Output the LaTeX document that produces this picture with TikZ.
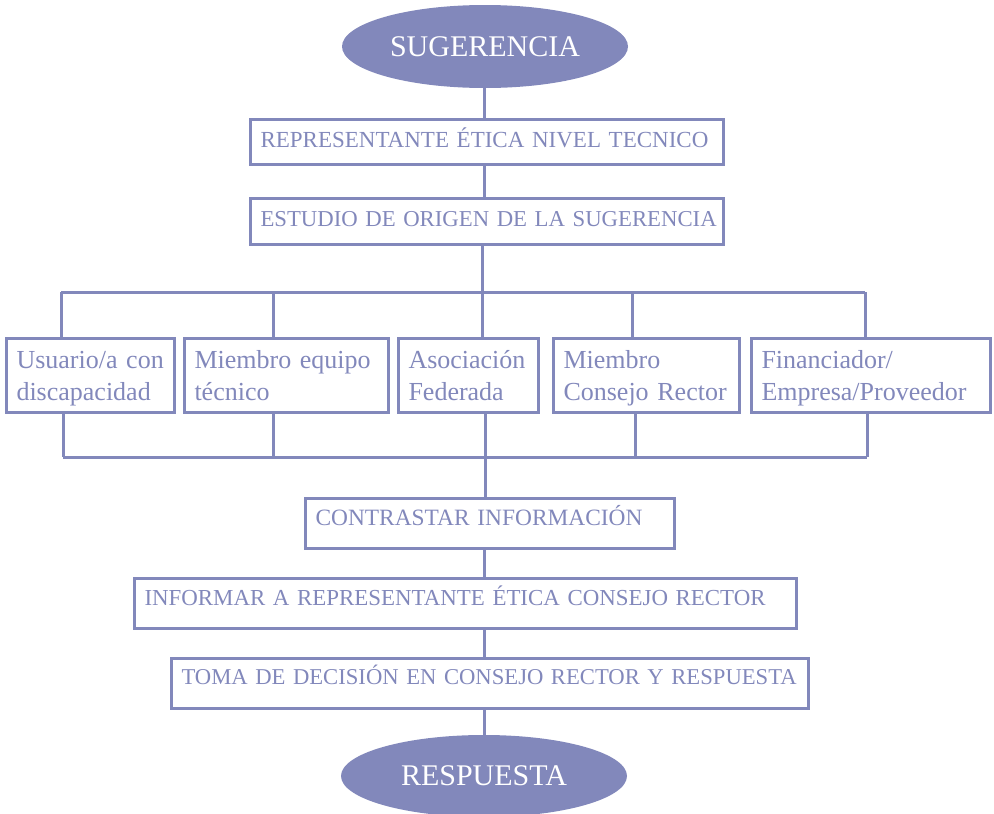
\documentclass[tikz,border=0pt]{standalone}
\usepackage{fontspec}
\setmainfont{Liberation Serif}
\usetikzlibrary{shapes.geometric,calc}
\definecolor{main}{RGB}{130,136,187}
\newcommand{\fsz}[1]{\fontsize{#1}{28}\selectfont}
\begin{document}
\begin{tikzpicture}[x=1pt,y=-1pt,
  conn/.style={draw=main,line width=3pt},
  cbox/.style={draw=main,line width=3pt,inner xsep=10pt,inner ysep=0pt,anchor=north west,align=left,text=main,font=\fsz{23.2}},
  lbox/.style={cbox,font=\fontsize{26}{32}\selectfont,text height=30pt,text depth=44pt},
  oval/.style={ellipse,fill=main,draw=none,minimum width=286pt,text=white,font=\fontsize{30}{34}\selectfont}]
\useasboundingbox (0,0) rectangle (994,814);
\coordinate (ax) at (484,0);
% ellipses
\node[oval,minimum height=83pt] (e1) at (485,46.5) {SUGERENCIA};
\node[oval,minimum height=82pt] (e2) at (484,776) {RESPUESTA};
% caps boxes
\node[cbox,font=\fsz{23},text width=453pt,text height=27.5pt,text depth=17.5pt] (b1) at (249,118) {\mbox{REPRESENTANTE ÉTICA NIVEL TECNICO}};
\node[cbox,font=\fsz{22.75},text width=453pt,text height=28pt,text depth=18pt] (b2) at (249,197) {\mbox{ESTUDIO DE ORIGEN DE LA SUGERENCIA}};
% row of boxes
\node[lbox,text width=148pt] (A) at (5,337) {Usuario/a con\\discapacidad};
\node[lbox,text width=184pt] (B) at (183,337) {Miembro equipo\\técnico};
\node[lbox,text width=120pt] (C) at (397,337) {Asociación\\Federada};
\node[lbox,text width=166pt] (D) at (552,337) {Miembro\\Consejo Rector};
\node[lbox,text width=219pt] (E) at (750,337) {Financiador/\\Empresa/Proveedor};
% lower boxes
\node[cbox,font=\fsz{23.4},text width=349pt,text height=27pt,text depth=23pt] (c1) at (304,497) {\mbox{CONTRASTAR INFORMACIÓN}};
\node[cbox,font=\fsz{22.9},text width=642pt,text height=27pt,text depth=23pt] (c2) at (133,577) {\mbox{INFORMAR A REPRESENTANTE ÉTICA CONSEJO RECTOR}};
\node[cbox,font=\fsz{22.65},text width=617pt,text height=26pt,text depth=24pt] (c3) at (170,657) {\mbox{TOMA DE DECISIÓN EN CONSEJO RECTOR Y RESPUESTA}};
% bus coordinates
\coordinate (tA) at (61,292);
\coordinate (tB) at (273,292);
\coordinate (tC) at (482,292);
\coordinate (tD) at (632,292);
\coordinate (tE) at (865,292);
\coordinate (uA) at (63,457);
\coordinate (uB) at (273,457);
\coordinate (uC) at (485,457);
\coordinate (uD) at (635,457);
\coordinate (uE) at (867,457);
% connectors
\draw[conn] (e1.south -| ax) -- (b1.north -| ax);
\draw[conn] (b1.south -| ax) -- (b2.north -| ax);
\draw[conn] (b2.south -| tC) -- (tC |- C.north);
\draw[conn] (tA) -- (tE);
\draw[conn] (tA) -- (tA |- A.north);
\draw[conn] (tB) -- (tB |- B.north);
\draw[conn] (tD) -- (tD |- D.north);
\draw[conn] (tE) -- (tE |- E.north);
\draw[conn] (uA) -- (uE);
\draw[conn] (uA |- A.south) -- (uA);
\draw[conn] (uB |- B.south) -- (uB);
\draw[conn] (uC |- C.south) -- (uC |- c1.north);
\draw[conn] (uD |- D.south) -- (uD);
\draw[conn] (uE |- E.south) -- (uE);
\draw[conn] (c1.south -| ax) -- (c2.north -| ax);
\draw[conn] (c2.south -| ax) -- (c3.north -| ax);
\draw[conn] (c3.south -| ax) -- (e2.north -| ax);
\end{tikzpicture}
\end{document}
